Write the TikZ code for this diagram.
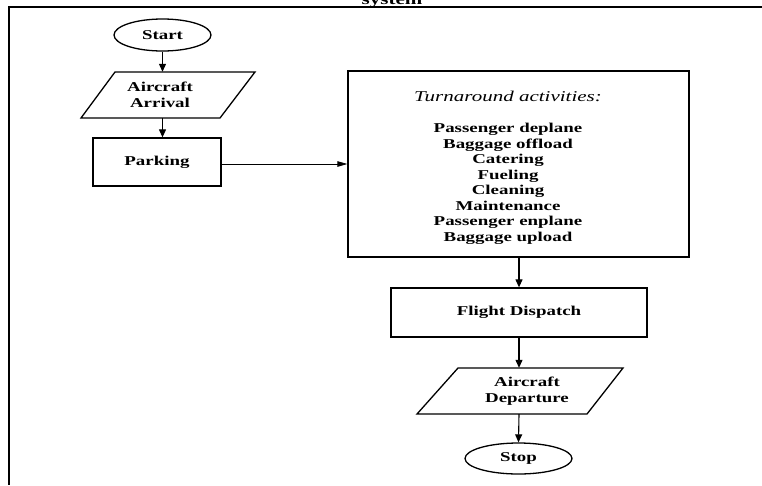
\documentclass[tikz,border=0pt]{standalone}
\usepackage{fontspec}
\setmainfont{Liberation Serif}
\usetikzlibrary{shapes.geometric,arrows.meta}
\newcommand\bsz{\fontsize{13.5}{15.5}\selectfont\bfseries}
\newcommand\sx[1]{\scalebox{1.4}[1]{#1}}
\tikzset{
  boxed/.style={draw, line width=1.3pt, font=\bsz, align=center, inner sep=0pt},
  oval/.style={ellipse, draw, line width=1.3pt, font=\bsz, inner sep=0pt},
  txt/.style={font=\bsz, align=center, inner sep=0pt},
  pgram/.style={draw, line width=1.3pt, line join=miter},
  arw/.style={line width=1.1pt, -{Triangle[length=8pt,width=7pt]}},
  arwthin/.style={line width=0.8pt, -{Triangle[length=10pt,width=5.5pt]}},
  frame/.style={line width=2pt}
}
\begin{document}
\begin{tikzpicture}[x=1pt,y=-1pt]
\useasboundingbox (0,0) rectangle (762,485);
\fill[white] (0,0) rectangle (762,485);
% frame
\coordinate (ftl) at (8.5,6.5);
\coordinate (ftr) at (762,6.5);
\coordinate (fbl) at (8.5,485);
\draw[frame] (ftr) -- (ftl) -- (fbl);
\node[txt, anchor=base] (sys) at (392,4.5) {\fontsize{15}{15}\selectfont\sx{system}};
% nodes
\node[oval, minimum width=97pt, minimum height=32pt] (start) at (162.5,35) {\sx{Start}};
\node[txt, minimum height=46pt] (arr) at (160,95) {\sx{Aircraft}\\\sx{Arrival}};
\draw[pgram] (115,72) -- (255,72) -- (220,118) -- (81,118) -- cycle;
\node[boxed, minimum width=128pt, minimum height=48pt] (park) at (157,162) {\sx{Parking}};
\node[boxed, minimum width=341pt, minimum height=186pt] (turn) at (518.5,164) {};
\node[txt] (turntxt) at (508,168) {{\fontsize{15}{15.5}\selectfont\mdseries\itshape\sx{Turnaround activities:}}\\[15.5pt]
\sx{Passenger deplane}\\\sx{Baggage offload}\\\sx{Catering}\\\sx{Fueling}\\\sx{Cleaning}\\\sx{Maintenance}\\\sx{Passenger enplane}\\\sx{Baggage upload}};
\node[boxed, minimum width=256pt, minimum height=49pt] (flight) at (519,312.5) {\sx{Flight Dispatch}};
\node[txt, minimum height=46pt] (dep) at (527,391) {\sx{Aircraft}\\\sx{Departure}};
\draw[pgram] (458,368) -- (623,368) -- (587,414) -- (417,414) -- cycle;
\node[oval, minimum width=107pt, minimum height=31pt] (stop) at (518.5,458.5) {\sx{Stop}};
% connectors
\draw[arw] (start.south) -- (start.south |- arr.north);
\draw[arw] (start.south |- arr.south) -- (start.south |- park.north);
\draw[arwthin] ([yshift=-2pt]park.east) -- ([yshift=-2pt]park.east -| turn.west);
\draw[arw] (turn.south -| flight.north) -- (flight.north);
\draw[arw] (flight.south) -- (flight.south |- dep.north);
\draw[arw] (flight.south |- dep.south) -- (stop.north);
\end{tikzpicture}
\end{document}
